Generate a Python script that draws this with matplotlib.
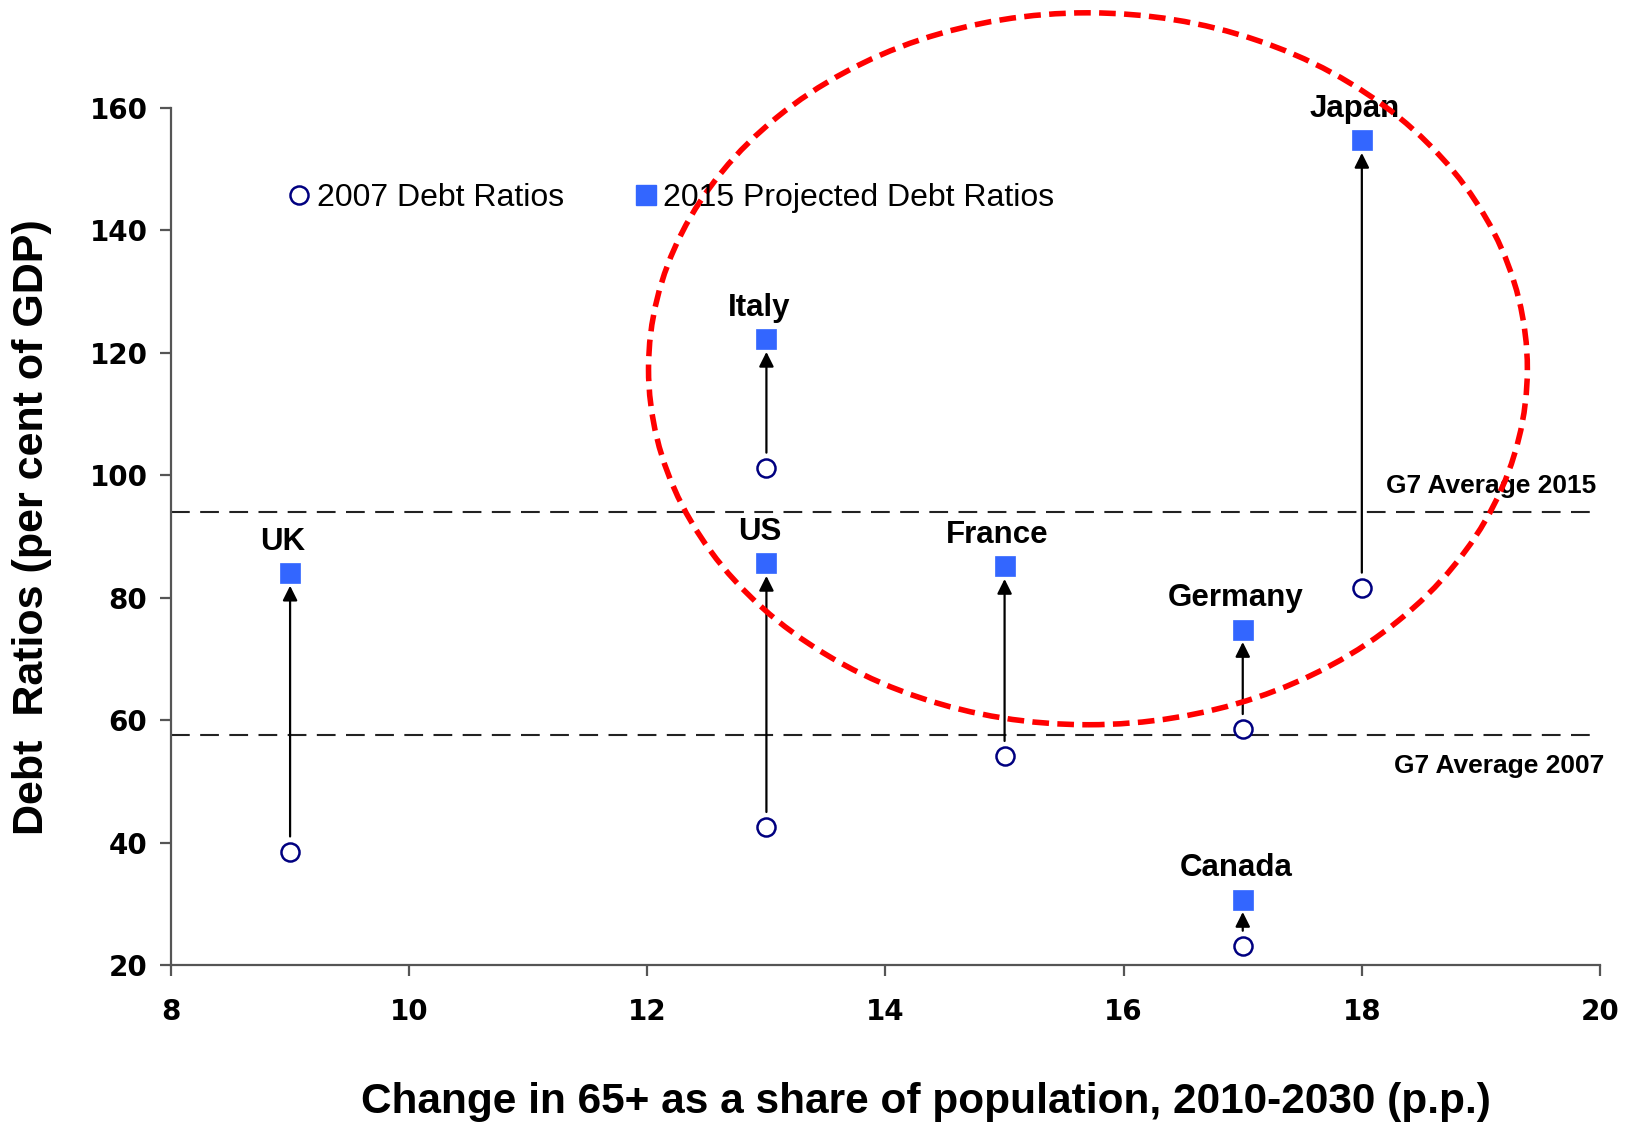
import matplotlib
matplotlib.use("Agg")
import matplotlib.pyplot as plt
from matplotlib.patches import Ellipse
from matplotlib.lines import Line2D

# Country data: ageing (change in 65+ share, p.p.) and debt ratios (% of GDP)
countries = ["UK", "US", "Italy", "France", "Germany", "Canada", "Japan"]
ageing_change = [9, 13, 13, 15, 17, 17, 18]
debt_2007 = [38.5, 42.5, 101.2, 54.1, 58.5, 23.1, 81.6]
debt_2015 = [84.0, 85.6, 122.2, 85.1, 74.8, 30.7, 154.7]

g7_avg_2007 = 57.5
g7_avg_2015 = 94.0

x_ticks = [8, 10, 12, 14, 16, 18, 20]
y_ticks = [20, 40, 60, 80, 100, 120, 140, 160]

# Highlight ellipse around the high-ageing group (data coordinates)
ELLIPSE_CENTER = (15.70, 117.4)
ELLIPSE_WIDTH = 7.38
ELLIPSE_HEIGHT = 116.3

SQUARE_BLUE = "#3366FF"
NAVY = "#000080"
AXIS_GREY = "#555555"
LABEL_FONT = ["Liberation Sans", "DejaVu Sans"]

fig = plt.figure(figsize=(16.29, 11.27), dpi=100)
ax = fig.add_axes([171 / 1629, 1 - 965 / 1127, 1429 / 1629, 857 / 1127])

ax.set_xlim(8, 20)
ax.set_ylim(20, 160)

# G7 averages
dash_style = (0, (9, 5))
ax.axhline(g7_avg_2015, color="#222222", lw=1.5, ls=dash_style, zorder=1)
ax.axhline(g7_avg_2007, color="#222222", lw=1.5, ls=dash_style, zorder=1)
ax.annotate("G7 Average 2015", xy=(20, g7_avg_2015), xytext=(-3, 10),
            textcoords="offset points", ha="right", va="bottom",
            fontsize=19, fontweight="bold", family=LABEL_FONT)
ax.annotate("G7 Average 2007", xy=(20, g7_avg_2007), xytext=(3, -13),
            textcoords="offset points", ha="right", va="top",
            fontsize=19, fontweight="bold", family=LABEL_FONT)

# Arrows from 2007 to 2015 ratios
for x, v07, v15 in zip(ageing_change, debt_2007, debt_2015):
    ax.annotate("", xy=(x, v15), xytext=(x, v07),
                arrowprops=dict(arrowstyle="-|>", color="black", lw=1.6,
                                mutation_scale=22, shrinkA=11, shrinkB=9),
                zorder=2)

ax.plot(ageing_change, debt_2007, ls="none", marker="o", ms=13,
        mfc="white", mec=NAVY, mew=1.8, zorder=3)
ax.plot(ageing_change, debt_2015, ls="none", marker="s", ms=14,
        mfc=SQUARE_BLUE, mec=SQUARE_BLUE, mew=0.5, zorder=3)

# Country labels above the 2015 markers
for name, x, v15 in zip(countries, ageing_change, debt_2015):
    ax.annotate(name, xy=(x, v15), xytext=(-5, 17), textcoords="offset points",
                ha="center", va="baseline", fontsize=22.5, fontweight="bold",
                family=LABEL_FONT, zorder=4)

ellipse = Ellipse(ELLIPSE_CENTER, ELLIPSE_WIDTH, ELLIPSE_HEIGHT, fill=False,
                  edgecolor="#FF0000", lw=4.0, ls=(0, (3, 1.5)),
                  clip_on=False, zorder=5)
ax.add_patch(ellipse)

# Legend
handles = [
    Line2D([], [], ls="none", marker="o", ms=13, mfc="white", mec=NAVY, mew=1.8),
    Line2D([], [], ls="none", marker="s", ms=14, mfc=SQUARE_BLUE, mec=SQUARE_BLUE),
]
ax.legend(handles, ["2007 Debt Ratios", "2015 Projected Debt Ratios"],
          ncol=2, frameon=False, loc="center left",
          bbox_to_anchor=(0.072, 0.895), handlelength=0.8, handletextpad=0.15,
          columnspacing=2.15, borderaxespad=0,
          prop=dict(family=LABEL_FONT, size=23))

# Axes styling
for side in ("top", "right"):
    ax.spines[side].set_visible(False)
for side in ("left", "bottom"):
    ax.spines[side].set_color(AXIS_GREY)
    ax.spines[side].set_linewidth(1.6)

ax.set_xticks(x_ticks)
ax.set_yticks(y_ticks)
ax.tick_params(axis="both", direction="out", length=8, width=1.6,
               color=AXIS_GREY, labelsize=20)
ax.tick_params(axis="x", pad=16)
ax.tick_params(axis="y", pad=9)
for lbl in ax.get_xticklabels() + ax.get_yticklabels():
    lbl.set_fontweight("heavy")
    lbl.set_family("DejaVu Sans")

ax.set_xlabel("Change in 65+ as a share of population, 2010-2030 (p.p.)",
              fontsize=30.5, fontweight="bold", family=LABEL_FONT)
ax.xaxis.set_label_coords(0.528, -0.137)
ax.set_ylabel("Debt  Ratios (per cent of GDP)", fontsize=31,
              fontweight="bold", family=LABEL_FONT)
ax.yaxis.set_label_coords(-0.083, 0.511)

fig.savefig("out.png", dpi=100, facecolor="white")
